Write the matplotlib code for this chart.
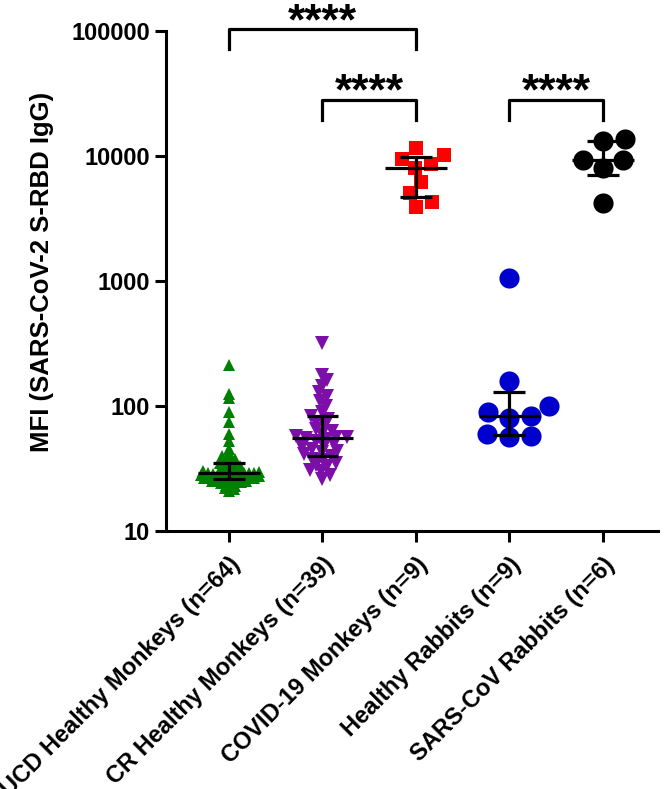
import numpy as np
import matplotlib
matplotlib.use('Agg')
import matplotlib.pyplot as plt

plt.rcParams['font.family'] = 'Liberation Sans'
plt.rcParams['font.weight'] = 'bold'

# ---------------- data ----------------
groups = ['UCD Healthy Monkeys (n=64)', 'CR Healthy Monkeys (n=39)',
          'COVID-19 Monkeys (n=9)', 'Healthy Rabbits (n=9)',
          'SARS-CoV Rabbits (n=6)']

ucd_healthy = [213, 125, 115, 90, 75, 60, 52, 45, 42, 40,
               39, 38, 37, 36, 35, 35,
               34, 33, 33, 32, 32, 31, 31, 30, 30, 30, 29.5, 29.5, 29, 29, 29, 29,
               29, 28.5, 28.5, 28, 28, 28, 27.5, 27.5, 27, 27, 27, 26.5, 26.5, 26.5, 26.5, 26,
               26, 25.5, 25.5, 25, 25, 25, 24.5, 24.5, 24, 24, 23.5, 23, 22.5, 22, 21.5, 21]
cr_healthy = [320, 177, 160, 145, 130, 120, 110, 100, 90, 83,
              78, 75, 70, 66, 63, 60, 58, 57, 56, 55,
              54, 52, 50, 48, 47, 45, 44, 43, 41, 40,
              38, 37, 35, 34, 33, 31, 30, 28, 26]
covid_monkeys = [11600, 10200, 9460, 8630, 8020, 6190, 5060, 4290, 3910]
healthy_rabbits = [1057, 158, 100, 90, 83, 80, 60, 58, 57]
sars_rabbits = [13800, 13100, 9300, 9250, 8020, 4210]

all_data = [ucd_healthy, cr_healthy, covid_monkeys, healthy_rabbits, sars_rabbits]
colors = ['#008000', '#7B0FA8', '#FF0000', '#0000CC', '#000000']
markers = ['^', 'v', 's', 'o', 'o']
msizes = [9, 9.5, 9.5, 14.5, 14.5]

# comparisons: (group a, group b, bracket top, leg bottom)
comparisons = [(0, 2, 103000, 72000), (1, 2, 28000, 19500), (3, 4, 28000, 19500)]

# ---------------- figure ----------------
fig = plt.figure(figsize=(6.68, 7.89), dpi=100)
ax = fig.add_axes([166/668, 1 - 531/789, 492/668, 500/789])
ax.set_yscale('log')
ax.set_ylim(10, 100000)
ax.set_xlim(-0.673, 4.59)

px_per_unit = 492 / (4.59 + 0.673)


def swarm_offsets(xc, vals, dxmin, dymin):
    """simple beeswarm in pixel space, returns x positions in data units"""
    vals = np.asarray(vals, dtype=float)
    ypx = ax.transData.transform(np.column_stack([np.full(len(vals), xc), vals]))[:, 1]
    order = np.argsort(vals)
    placed = []
    xs = np.zeros(len(vals))
    cands = [0]
    for k in range(1, 80):
        cands += [k, -k]
    for i in order:
        for c in cands:
            ok = True
            for (px, py) in placed:
                if ((c - px) / dxmin) ** 2 + ((ypx[i] - py) / dymin) ** 2 < 1:
                    ok = False
                    break
            if ok:
                break
        placed.append((c, ypx[i]))
        xs[i] = xc + c / px_per_unit
    return xs


spacing = [(5, 3.5), (10.5, 6), (16, 15), (22, 17), (22, 16)]
for i, vals in enumerate(all_data):
    xs = swarm_offsets(i, vals, *spacing[i])
    ax.plot(xs, vals, linestyle='none', marker=markers[i], ms=msizes[i],
            color=colors[i], markeredgewidth=0, zorder=2)
    q1, med, q3 = np.percentile(vals, [25, 50, 75], method='weibull')
    ax.hlines(med, i - 0.33, i + 0.33, color='k', lw=2.3, zorder=3)
    ax.hlines([q1, q3], i - 0.17, i + 0.17, color='k', lw=2.3, zorder=3)
    ax.vlines(i, q1, q3, color='k', lw=2.3, zorder=3)

for a, b, top, bot in comparisons:
    ax.plot([a, a, b, b], [bot, top, top, bot], color='k', lw=2.3, clip_on=False)
    ax.text((a + b) / 2, top * 0.92, '****', ha='center', va='baseline',
            fontsize=32, fontweight='bold', clip_on=False)

# ---------------- axes style ----------------
for s in ['top', 'right']:
    ax.spines[s].set_visible(False)
for s in ['left', 'bottom']:
    ax.spines[s].set_linewidth(2.2)
ax.set_yticks([10, 100, 1000, 10000, 100000])
ax.set_yticklabels(['10', '100', '1000', '10000', '100000'])
ax.yaxis.set_minor_locator(matplotlib.ticker.NullLocator())
ax.set_xticks(range(len(groups)))
ax.set_xticklabels(groups, rotation=45, ha='right', rotation_mode='anchor')
ax.tick_params(axis='both', width=2.2, length=8, labelsize=17)
ax.tick_params(axis='x', pad=8)
ax.set_ylabel('MFI (SARS-CoV-2 S-RBD IgG)', fontsize=18.5, fontweight='bold')
ax.yaxis.set_label_coords(-0.228, 0.518)

plt.savefig('out.png', dpi=100)
